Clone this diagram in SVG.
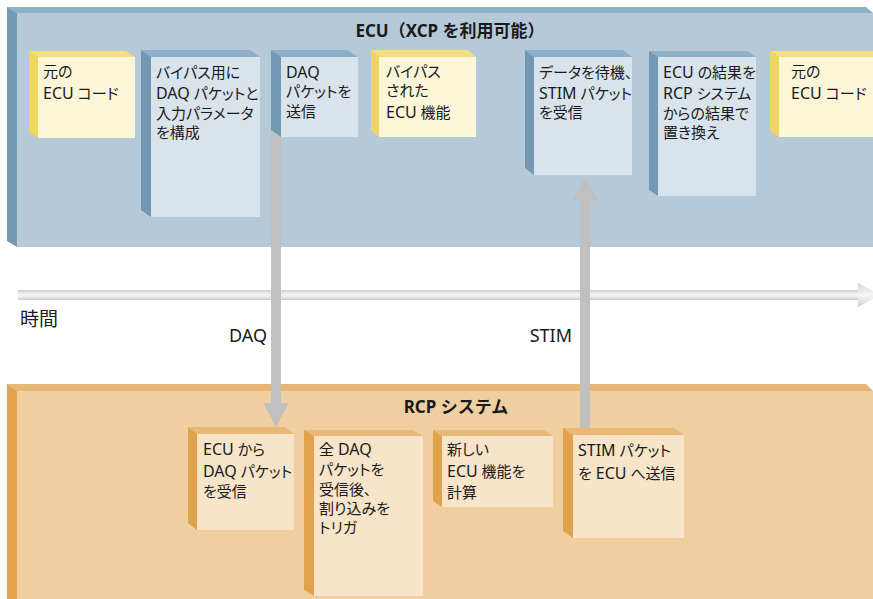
<svg xmlns="http://www.w3.org/2000/svg" width="873" height="599" viewBox="0 0 873 599">
<style>
text{font-family:"Noto Sans","Noto Sans CJK JP",sans-serif;fill:#1a1a1a;font-size:15px;font-feature-settings:"palt"}
.l{font-size:16px}
.title{font-weight:bold;font-size:17px;font-feature-settings:normal}
.mid{font-size:18px}
.bs{fill:#7398b4}.bt{fill:#8db0c8}.bf{fill:#d9e3ec}
.ys{fill:#efd65c}.yt{fill:#f3df7c}.yf{fill:#fcf6d9}
.os{fill:#e0a24c}.ot{fill:#e9b877}.of{fill:#f7e4c9}
.shaft{fill:#c0c0c0}
</style>
<defs>
<linearGradient id="tg" x1="0" y1="0" x2="0" y2="1">
<stop offset="0" stop-color="#c8c8c8"/><stop offset="0.2" stop-color="#e2e2e2"/><stop offset="0.5" stop-color="#f6f6f6"/><stop offset="0.8" stop-color="#e2e2e2"/><stop offset="1" stop-color="#c8c8c8"/>
</linearGradient>
</defs>
<rect width="873" height="599" fill="#fff"/>
<g id="ecu-panel">
<polygon points="7,7 866,7 873,13 17,13" fill="#8fb1c8"/>
<polygon points="7,7 17,13 17,247 7,241" fill="#7499b3"/>
<rect x="17" y="13" width="856" height="234" fill="#b5c9d9"/>
<text class="title" x="450" y="37" text-anchor="middle">ECU（XCP を利用可能）</text>
</g>
<g id="rcp-panel">
<polygon points="7,384 866,384 873,391 17,391" fill="#e8b675"/>
<polygon points="7,384 17,391 17,599 7,599" fill="#e2a24c"/>
<rect x="17" y="391" width="856" height="208" fill="#efcfa0"/>
<text class="title" x="456" y="413" text-anchor="middle">RCP システム</text>
</g>
<g id="connectors">
<g id="time-axis">
<rect x="18" y="290" width="845" height="10" fill="url(#tg)"/>
<polygon points="858,283 880,295 858,307" fill="url(#tg)"/>
<text x="20" y="326" style="font-size:19px">時間</text>
</g>
<g id="daq-arrow">
<rect class="shaft" x="271" y="130" width="10" height="274"/>
<polygon class="shaft" points="263,403 289,403 276,427"/>
<text class="mid" x="267" y="342" text-anchor="end">DAQ</text>
</g>
<g id="stim-arrow">
<rect class="shaft" x="580" y="199" width="10" height="235"/>
<polygon class="shaft" points="572,200 598,200 585,177"/>
<text class="mid" x="572" y="342" text-anchor="end">STIM</text>
</g>
</g>
<g id="ecu-original-1">
<polygon class="yt" points="29,51 126,51 135,57 38,57"/>
<polygon class="ys" points="29,51 38,57 38,138 29,132"/>
<rect class="yf" x="38" y="57" width="97" height="81"/>
<text x="43" y="77">元の</text>
<text x="43" y="99"><tspan class="l">ECU</tspan> コード</text>
</g>
<g id="configure-daq">
<polygon class="bt" points="141,50 250,50 260,57 151,57"/>
<polygon class="bs" points="141,50 151,57 151,217 141,210"/>
<rect class="bf" x="151" y="57" width="109" height="160"/>
<text x="156" y="78">バイパス用に</text>
<text x="156" y="99"><tspan class="l">DAQ</tspan> パケットと</text>
<text x="156" y="119">入力パラメータ</text>
<text x="156" y="138">を構成</text>
</g>
<g id="send-daq">
<polygon class="bt" points="271,50 348,50 358,57 281,57"/>
<polygon class="bs" points="271,50 281,57 281,137 271,130"/>
<rect class="bf" x="281" y="57" width="77" height="80"/>
<text class="l" x="286" y="78">DAQ</text>
<text x="286" y="97">パケットを</text>
<text x="286" y="117">送信</text>
</g>
<g id="bypassed-function">
<polygon class="yt" points="371,50 468,50 476,57 379,57"/>
<polygon class="ys" points="371,50 379,57 379,137 371,130"/>
<rect class="yf" x="379" y="57" width="97" height="80"/>
<text x="386" y="77">バイパス</text>
<text x="386" y="96">された</text>
<text x="386" y="118"><tspan class="l">ECU</tspan> 機能</text>
</g>
<g id="wait-stim">
<polygon class="bt" points="525,50 623,50 632,57 534,57"/>
<polygon class="bs" points="525,50 534,57 534,175 525,168"/>
<rect class="bf" x="534" y="57" width="98" height="118"/>
<text x="539" y="78">データを待機、</text>
<text x="539" y="99"><tspan class="l">STIM</tspan> パケット</text>
<text x="539" y="118">を受信</text>
</g>
<g id="replace-results">
<polygon class="bt" points="649,51 747,51 756,57 658,57"/>
<polygon class="bs" points="649,51 658,57 658,196 649,190"/>
<rect class="bf" x="658" y="57" width="98" height="139"/>
<text x="663" y="78"><tspan class="l">ECU</tspan> の結果を</text>
<text x="663" y="99"><tspan class="l">RCP</tspan> システム</text>
<text x="663" y="119">からの結果で</text>
<text x="663" y="138">置き換え</text>
</g>
<g id="ecu-original-2">
<polygon class="yt" points="770,51 873,51 873,57 779,57"/>
<polygon class="ys" points="770,51 779,57 779,137 770,131"/>
<rect class="yf" x="779" y="57" width="94" height="80"/>
<text x="791" y="77">元の</text>
<text x="791" y="99"><tspan class="l">ECU</tspan> コード</text>
</g>
<g id="receive-daq">
<polygon class="ot" points="188,427 285,427 294,434 197,434"/>
<polygon class="os" points="188,427 197,434 197,530 188,523"/>
<rect class="of" x="197" y="434" width="97" height="96"/>
<text x="203" y="455"><tspan class="l">ECU</tspan> から</text>
<text x="203" y="477"><tspan class="l">DAQ</tspan> パケット</text>
<text x="203" y="497">を受信</text>
</g>
<g id="trigger-interrupt">
<polygon class="ot" points="304,430 413,430 423,436 314,436"/>
<polygon class="os" points="304,430 314,436 314,596 304,590"/>
<rect class="of" x="314" y="436" width="109" height="160"/>
<text x="319" y="455">全 <tspan class="l">DAQ</tspan></text>
<text x="319" y="475">パケットを</text>
<text x="319" y="495">受信後、</text>
<text x="319" y="514">割り込みを</text>
<text x="319" y="533">トリガ</text>
</g>
<g id="compute-function">
<polygon class="ot" points="433,430 544,430 553,436 442,436"/>
<polygon class="os" points="433,430 442,436 442,507 433,501"/>
<rect class="of" x="442" y="436" width="111" height="71"/>
<text x="447" y="455">新しい</text>
<text x="447" y="477"><tspan class="l">ECU</tspan> 機能を</text>
<text x="447" y="498">計算</text>
</g>
<g id="send-stim">
<polygon class="ot" points="563,428 674,428 684,435 573,435"/>
<polygon class="os" points="563,428 573,435 573,538 563,531"/>
<rect class="of" x="573" y="435" width="111" height="103"/>
<text x="578" y="456"><tspan class="l">STIM</tspan> パケット</text>
<text x="578" y="479">を <tspan class="l">ECU</tspan> へ送信</text>
</g>
</svg>
